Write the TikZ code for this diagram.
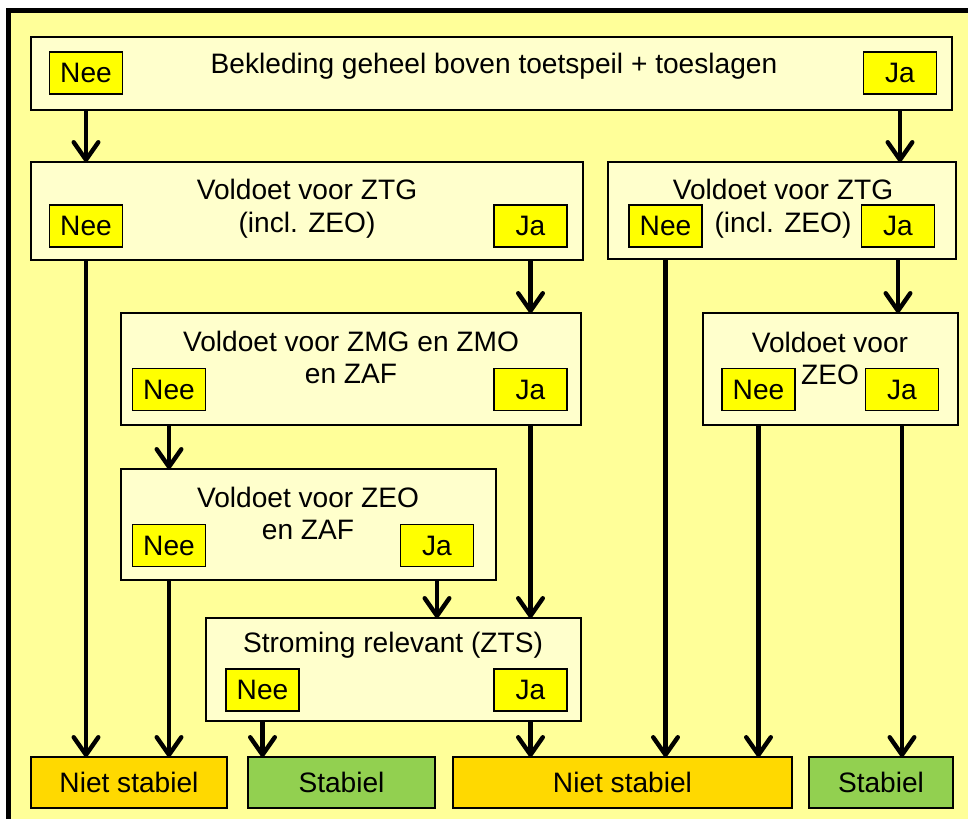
\documentclass[tikz,border=0pt]{standalone}
\usepackage{fontspec}
\setmainfont{Liberation Sans}
\usetikzlibrary{arrows.meta}
\definecolor{bgyel}{RGB}{255,255,153}
\definecolor{boxfill}{RGB}{255,255,204}
\definecolor{btnyel}{RGB}{255,255,0}
\definecolor{gold}{RGB}{255,217,0}
\definecolor{okgreen}{RGB}{146,208,80}
\tikzset{
  every node/.style={font=\fontsize{16}{18}\selectfont, inner sep=0pt, outer sep=0pt},
  box/.style={draw=black, line width=0.85pt, fill=boxfill},
  btn/.style={draw=black, line width=0.85pt, fill=btnyel, minimum width=73*0.02cm, minimum height=42*0.02cm},
  ns/.style={draw=black, line width=0.85pt, fill=gold, minimum height=51*0.02cm},
  st/.style={draw=black, line width=0.85pt, fill=okgreen, minimum height=51*0.02cm},
  lbl/.style={},
  arr/.style={line width=2.5pt, -{Straight Barb[length=10pt,width=14pt,line join=round,line cap=round]}},
}
\begin{document}
\begin{tikzpicture}[x=0.02cm,y=-0.02cm]
\useasboundingbox (0,0) rectangle (968,819);
\fill[white] (0,0) rectangle (968,819);
\begin{scope}
\clip (0,0) rectangle (968,819);
\draw[line width=2.8pt, fill=bgyel] (8.5,10.5) rectangle (990,840);
\end{scope}
% top box
\node[box, minimum width=921*0.02cm, minimum height=73*0.02cm] (top) at (491.5,73.5) {};
\node[lbl] (toptxt) at (494,66) {Bekleding geheel boven toetspeil + toeslagen};
\node[btn] (nee1) at (86,73) {Nee};
\node[btn] (ja1) at (900,73) {Ja};
% box 2 left
\node[box, minimum width=552*0.02cm, minimum height=98*0.02cm] (b2l) at (307,211) {};
\node[lbl] (b2lt1) at (307,189) {Voldoet voor ZTG};
\node[lbl] (b2lt2) at (307,225) {(incl. ZEO)};
\node[btn] (nee2l) at (86,226) {Nee};
\node[btn] (ja2l) at (530.5,226) {Ja};
% box 2 right
\node[box, minimum width=348*0.02cm, minimum height=97*0.02cm] (b2r) at (782,210.5) {};
\node[lbl] (b2rt1) at (783,189) {Voldoet voor ZTG};
\node[lbl] (b2rt2) at (783,225) {(incl. ZEO)};
\node[btn] (nee2r) at (665.5,226) {Nee};
\node[btn] (ja2r) at (898,226) {Ja};
% ZMG box
\node[box, minimum width=460*0.02cm, minimum height=112*0.02cm] (zmg) at (351,369) {};
\node[lbl] (zmgt1) at (351,341) {Voldoet voor ZMG en ZMO};
\node[lbl] (zmgt2) at (351,374) {en ZAF};
\node[btn] (neezmg) at (169,389.5) {Nee};
\node[btn] (jazmg) at (530.5,389.5) {Ja};
% ZEO right box
\node[box, minimum width=255*0.02cm, minimum height=112*0.02cm] (zeo) at (830.5,369) {};
\node[lbl] (zeot1) at (830,342) {Voldoet voor};
\node[lbl] (zeot2) at (830,375) {ZEO};
\node[btn] (neezeo) at (758.5,389.5) {Nee};
\node[btn] (jazeo) at (902,389.5) {Ja};
% ZEO/ZAF box
\node[box, minimum width=375*0.02cm, minimum height=111*0.02cm] (zeozaf) at (308.5,524.5) {};
\node[lbl] (zzt1) at (308,497) {Voldoet voor ZEO};
\node[lbl] (zzt2) at (308,530) {en ZAF};
\node[btn] (neezz) at (169,545.5) {Nee};
\node[btn] (jazz) at (437,545.5) {Ja};
% ZTS box
\node[box, minimum width=375*0.02cm, minimum height=103*0.02cm] (zts) at (393.5,669.5) {};
\node[lbl] (ztst) at (393,645) {Stroming relevant (ZTS)};
\node[btn] (neezts) at (262.5,690) {Nee};
\node[btn] (jazts) at (530.5,690) {Ja};
% bottom boxes
\node[ns, minimum width=196*0.02cm] (ns1) at (129,782.5) {Niet stabiel};
\node[st, minimum width=187*0.02cm] (s1) at (341.5,782.5) {Stabiel};
\node[ns, minimum width=339*0.02cm] (ns2) at (622.5,782.5) {Niet stabiel};
\node[st, minimum width=144*0.02cm] (s2) at (881,782.5) {Stabiel};
% arrows
\draw[arr] (nee1 |- top.south) -- (nee1 |- b2l.north);
\draw[arr] (ja1 |- top.south) -- (ja1 |- b2r.north);
\draw[arr] (nee2l |- b2l.south) -- (nee2l |- ns1.north);
\draw[arr] (ja2l |- b2l.south) -- (ja2l |- zmg.north);
\draw[arr] (neezmg |- zmg.south) -- (neezmg |- zeozaf.north);
\draw[arr] (jazmg |- zmg.south) -- (jazmg |- zts.north);
\draw[arr] (neezz |- zeozaf.south) -- (neezz |- ns1.north);
\draw[arr] (jazz |- zeozaf.south) -- (jazz |- zts.north);
\draw[arr] (neezts |- zts.south) -- (neezts |- s1.north);
\draw[arr] (jazts |- zts.south) -- (jazts |- ns2.north);
\draw[arr] (nee2r |- b2r.south) -- (nee2r |- ns2.north);
\draw[arr] (ja2r |- b2r.south) -- (ja2r |- zeo.north);
\draw[arr] (neezeo |- zeo.south) -- (neezeo |- ns2.north);
\draw[arr] (jazeo |- zeo.south) -- (jazeo |- s2.north);
\end{tikzpicture}
\end{document}
